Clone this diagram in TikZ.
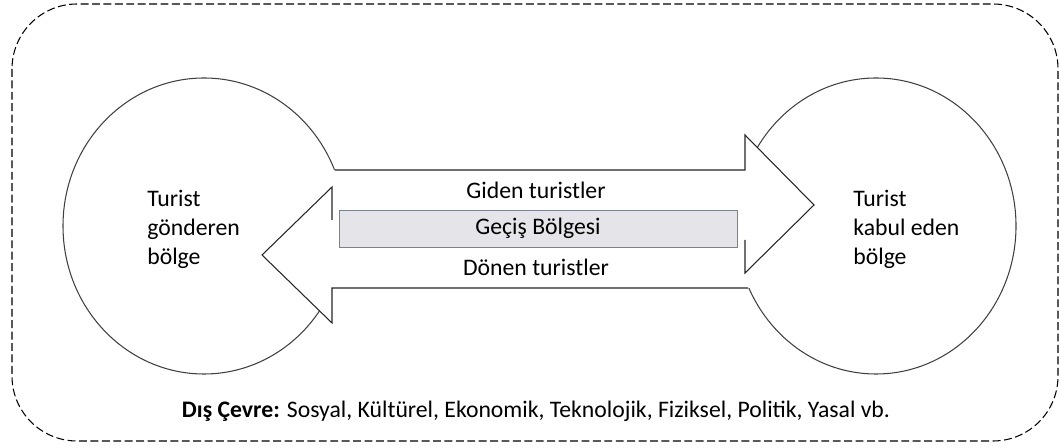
\documentclass[tikz,border=0pt]{standalone}
\usepackage{fontspec}
\setmainfont{Carlito}
\usepackage{xcolor}
\usetikzlibrary{arrows, positioning}
\definecolor{zonefill}{RGB}{229,229,233}
\definecolor{zoneline}{RGB}{122,130,146}
\tikzset{
  label/.style = {font=\fontsize{13.5}{16.5}\selectfont, inner sep=0pt},
  region/.style = {draw=black!75, line width=0.6pt},
  outline/.style = {draw=black!85, line width=0.6pt},
  env/.style = {draw=black, line width=0.6pt, dash pattern=on 4.5pt off 2pt}
}

\begin{document}
\begin{tikzpicture}[x=0.02cm, y=-0.02cm]
				\useasboundingbox (0,0) rectangle (1060,448);
				\draw[env, rounded corners=1.3cm] (12,4) rectangle (1058,441);
				\draw[region] (204,226) ellipse [x radius=141, y radius=148];
				\draw[region] (876,226) ellipse [x radius=140, y radius=148];
				\fill[white] (250,170) -- (745,170) -- (745,135) -- (814,205) -- (745,273) -- (745,240) -- (250,240) -- cycle;
				\fill[white] (262,255) -- (332,187) -- (332,220) -- (850,220) -- (850,288) -- (332,288) -- (332,323) -- cycle;
				\draw[outline] (334.5,170) -- (745,170) -- (745,135) -- (814,205) -- (745,273) -- (745,240);
				\draw[outline] (748,288) -- (332,288) -- (332,323) -- (262,255) -- (332,187) -- (332,220);
				\node[label, anchor = west, align = left] (send) at (147,229) {Turist\\gönderen\\bölge};
				\node[label, anchor = west, align = left] (recv) at (853,229) {Turist\\kabul eden\\bölge};
				\node[label] (go) at (536,190) {Giden turistler};
				\node[label, draw = zoneline, fill = zonefill, minimum width = 7.96cm, minimum height = 0.74cm] (zone) at (538,228.5) {Geçiş Bölgesi};
				\node[label] (back) at (536,267) {Dönen turistler};
				\node[label] (out) at (536,411) {\textbf{Dış Çevre:} Sosyal, Kültürel, Ekonomik, Teknolojik, Fiziksel, Politik, Yasal vb.};
			\end{tikzpicture}
\end{document}
